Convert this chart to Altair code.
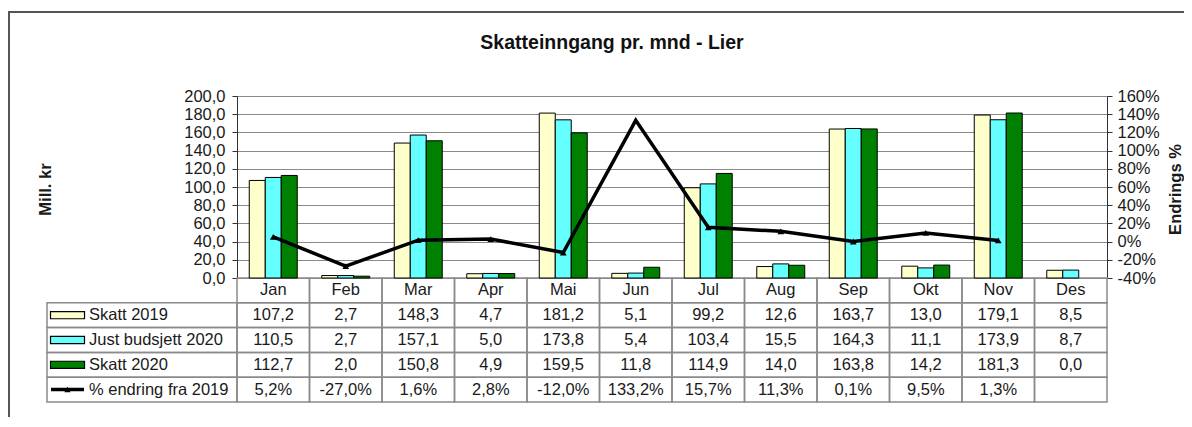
import altair as alt
import pandas as pd

# ---------------- data ----------------
months = ["Jan", "Feb", "Mar", "Apr", "Mai", "Jun", "Jul", "Aug", "Sep", "Okt", "Nov", "Des"]
skatt_2019 = [107.2, 2.7, 148.3, 4.7, 181.2, 5.1, 99.2, 12.6, 163.7, 13.0, 179.1, 8.5]
just_budsjett_2020 = [110.5, 2.7, 157.1, 5.0, 173.8, 5.4, 103.4, 15.5, 164.3, 11.1, 173.9, 8.7]
skatt_2020 = [112.7, 2.0, 150.8, 4.9, 159.5, 11.8, 114.9, 14.0, 163.8, 14.2, 181.3, 0.0]
endring_pct = [5.2, -27.0, 1.6, 2.8, -12.0, 133.2, 15.7, 11.3, 0.1, 9.5, 1.3, None]

series_names = ["Skatt 2019", "Just budsjett 2020", "Skatt 2020"]
line_name = "% endring fra 2019"
series_colors = ["#FFFFCC", "#66FFFF", "#008000"]
left_ticks = [0, 20, 40, 60, 80, 100, 120, 140, 160, 180, 200]
right_ticks = [-40, -20, 0, 20, 40, 60, 80, 100, 120, 140, 160]
title_text = "Skatteinngang pr. mnd - Lier"
left_title = "Mill. kr"
right_title = "Endrings %"

# ---------------- layout constants ----------------
FONT = "Liberation Sans"
W = 870          # plot width (12 month columns)
PLOT_H = 182     # height of the bar area
TABLE_H = 124    # height of the data table below
H = PLOT_H + TABLE_H
GRID = "#8a8a8a"
TXT = "#1a1a1a"

rows = ["hdr"] + series_names + [line_name]

# ---------------- frames ----------------
bar_records = []
for name, vals in zip(series_names, [skatt_2019, just_budsjett_2020, skatt_2020]):
    for m, v in zip(months, vals):
        bar_records.append({"month": m, "series": name, "value": v})
bars_df = pd.DataFrame(bar_records)
bars_df = bars_df[bars_df["value"] > 0]

line_df = pd.DataFrame(
    [{"month": m, "pct": p} for m, p in zip(months, endring_pct) if p is not None]
)


def fmt(v, pct=False):
    if v is None:
        return ""
    s = f"{v:.1f}".replace(".", ",")
    return s + "%" if pct else s


table_records = [{"month": m, "row": "hdr", "label": m} for m in months]
for name, vals in zip(series_names, [skatt_2019, just_budsjett_2020, skatt_2020]):
    for m, v in zip(months, vals):
        table_records.append({"month": m, "row": name, "label": fmt(v)})
for m, p in zip(months, endring_pct):
    table_records.append({"month": m, "row": line_name, "label": fmt(p, True)})
table_df = pd.DataFrame(table_records)

cells_df = pd.DataFrame([{"month": m, "row": r} for m in months for r in rows])
labels_df = pd.DataFrame([{"row": r, "series": r} for r in rows[1:]])
swatch_df = pd.DataFrame([{"row": r, "series": r} for r in series_names])
lineswatch_df = pd.DataFrame([{"row": line_name}])
one_df = pd.DataFrame({"a": [0]})

# ---------------- scales ----------------
x_scale = alt.Scale(domain=months, paddingInner=0, paddingOuter=0)
y_bar = alt.Scale(domain=[0, 200], range=[PLOT_H, 0], nice=False, zero=True)
y_pct = alt.Scale(domain=[-40, 160], range=[PLOT_H, 0], nice=False, zero=False)
y_row = alt.Scale(type="band", domain=rows, range=[PLOT_H, H], paddingInner=0, paddingOuter=0)
color_scale = alt.Scale(domain=series_names, range=series_colors)

X = alt.X("month:N", scale=x_scale, sort=months, axis=None)
YROW = alt.Y("row:N", scale=y_row, axis=None)

# ---------------- layers ----------------
table_cells = alt.Chart(cells_df).mark_rect(filled=False, color=GRID, strokeWidth=1.5).encode(
    x=X, y=YROW
)

label_cells = alt.Chart(labels_df).mark_rect(filled=False, color=GRID, strokeWidth=1.5).encode(
    x=alt.value(-190), x2=alt.value(0), y=YROW
)

bars = alt.Chart(bars_df).mark_bar(stroke="black", strokeWidth=1).encode(
    x=X,
    xOffset=alt.XOffset(
        "series:N",
        sort=series_names,
        scale=alt.Scale(domain=series_names, paddingInner=0, paddingOuter=0.766),
    ),
    y=alt.Y(
        "value:Q",
        scale=y_bar,
        axis=alt.Axis(
            values=left_ticks,
            labelExpr="replace(format(datum.value, '.1f'), '.', ',')",
            grid=True,
            gridColor=GRID,
            gridWidth=1,
            domainColor="#333333",
            tickColor="#333333",
            tickSize=5,
            labelFont=FONT,
            labelFontSize=16.5,
            labelColor=TXT,
            labelPadding=7,
            labelOverlap=False,
            labelFlush=False,
            title=left_title,
            titleFont=FONT,
            titleFontSize=16.5,
            titleFontWeight="bold",
            titleColor=TXT,
            titleAngle=270,
            titleX=-192,
            titleY=93,
            titleAlign="center",
            titleBaseline="middle",
        ),
    ),
    color=alt.Color("series:N", scale=color_scale, legend=None),
)

line = alt.Chart(line_df).mark_line(
    color="black",
    strokeWidth=3.5,
    point=alt.OverlayMarkDef(shape="triangle-up", size=45, filled=True, color="black"),
).encode(
    x=X,
    y=alt.Y(
        "pct:Q",
        scale=y_pct,
        axis=alt.Axis(
            orient="right",
            values=right_ticks,
            labelExpr="datum.value + '%'",
            grid=False,
            domainColor="#333333",
            tickColor="#333333",
            tickSize=5,
            labelFont=FONT,
            labelFontSize=16.5,
            labelColor=TXT,
            labelPadding=5,
            labelOverlap=False,
            labelFlush=False,
            title=right_title,
            titleFont=FONT,
            titleFontSize=16.5,
            titleFontWeight="bold",
            titleColor=TXT,
            titleAngle=270,
            titleX=68,
            titleY=93,
            titleAlign="center",
            titleBaseline="middle",
        ),
    ),
)

table_text = alt.Chart(table_df).mark_text(
    font=FONT, fontSize=16.5, color=TXT, align="center", baseline="middle"
).encode(x=X, y=YROW, text="label:N")

label_text = alt.Chart(labels_df).mark_text(
    font=FONT, fontSize=16.5, color=TXT, align="left", baseline="middle"
).encode(x=alt.value(-148), y=YROW, text="row:N")

swatches = alt.Chart(swatch_df).mark_point(
    shape="M-1,-0.21H1V0.21H-1Z", size=1156, filled=True, opacity=1,
    stroke="black", strokeWidth=1.2,
).encode(
    x=alt.value(-169.5), y=YROW,
    color=alt.Color("series:N", scale=color_scale, legend=None),
)

line_swatch = alt.Chart(lineswatch_df).mark_rule(color="black", strokeWidth=3.5).encode(
    x=alt.value(-186), x2=alt.value(-153), y=YROW
)
line_swatch_pt = alt.Chart(lineswatch_df).mark_point(
    shape="triangle-up", size=40, filled=True, color="black", opacity=1
).encode(x=alt.value(-169.5), y=YROW)

frame_left = alt.Chart(one_df).mark_rule(color="#555555", strokeWidth=2).encode(
    x=alt.value(-228), y=alt.value(-84), y2=alt.value(H + 20)
)
frame_top = alt.Chart(one_df).mark_rule(color="#555555", strokeWidth=2).encode(
    x=alt.value(-229), x2=alt.value(W + 77), y=alt.value(-84)
)

title = alt.Chart(one_df).mark_text(
    font=FONT, fontSize=19.5, fontWeight="bold", color="#111111",
    align="center", baseline="alphabetic",
).encode(x=alt.value(375), y=alt.value(-47), text=alt.value(title_text))

chart = (
    alt.layer(
        table_cells, label_cells, bars, line, table_text, label_text,
        swatches, line_swatch, line_swatch_pt, frame_left, frame_top, title,
    )
    .resolve_scale(y="independent")
    .properties(
        width=W,
        height=H,
        autosize=alt.AutoSizeParams(type="none"),
        padding={"left": 229, "top": 88, "right": 77, "bottom": 15},
        background="white",
    )
    .configure_view(stroke=None)
)

chart.save("out.html", embed_options={"renderer": "svg", "actions": False})
